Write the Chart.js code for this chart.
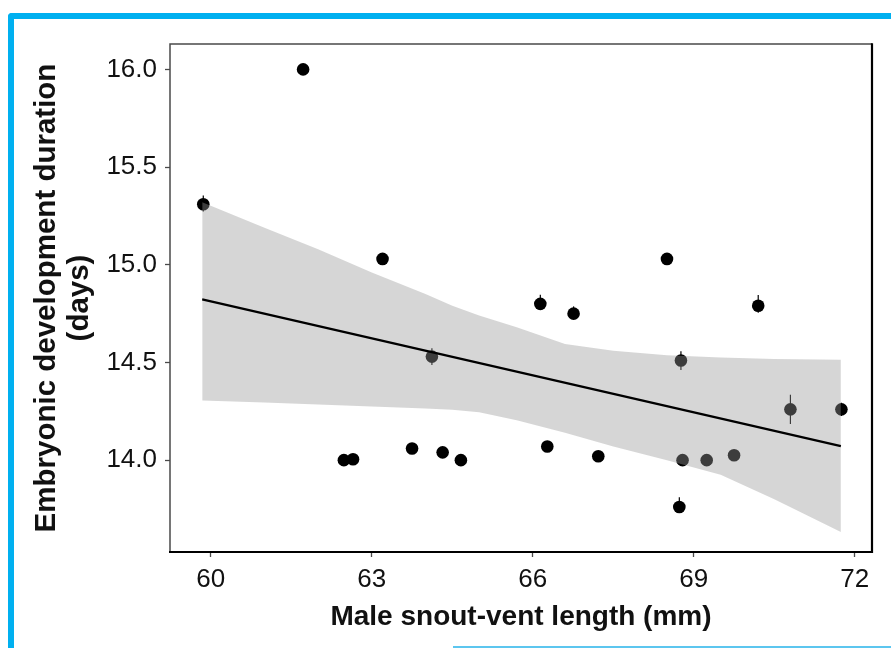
<!DOCTYPE html>
<html>
<head>
<meta charset="utf-8">
<script src="https://cdn.jsdelivr.net/npm/chart.js@4.4.1/dist/chart.umd.min.js"></script>
<style>
  html, body { margin: 0; padding: 0; background: #fff; overflow: hidden; }
  #wrap { position: relative; width: 891px; height: 648px; }
  #frame { position: absolute; left: 8px; top: 13px; width: 900px; height: 700px;
           border-left: 6px solid #00b0f0; border-top: 6px solid #00b0f0;
           border-top-left-radius: 4px; box-sizing: border-box; }
  #bline { position: absolute; left: 453px; top: 646px; width: 440px; height: 2px; background: #5cc6ef; }
  canvas { position: absolute; left: 0; top: 0; }
</style>
</head>
<body>
<div id="wrap">
  <div id="frame"></div>
  <div id="bline"></div>
  <canvas id="c" width="891" height="648"></canvas>
</div>
<script>
// ---- data ----
const svl = [59.86, 61.72, 62.48, 62.65, 63.20, 63.75, 64.12, 64.32, 64.66, 66.14, 66.27, 66.76, 67.22, 68.50, 68.73, 68.76, 68.79, 69.24, 69.75, 70.20, 70.80, 71.75];
const duration = [15.31, 16.00, 14.00, 14.005, 15.03, 14.06, 14.53, 14.04, 14.00, 14.80, 14.07, 14.75, 14.02, 15.03, 13.76, 14.51, 14.00, 14.00, 14.025, 14.79, 14.26, 14.26];
const errUp   = [0.045, 0.02, 0.02, 0.02, 0.02, 0.02, 0.043, 0.02, 0.02, 0.046, 0.02, 0.037, 0.02, 0.02, 0.05, 0.048, 0.02, 0.02, 0.02, 0.055, 0.075, 0.034];
const errDown = [0.037, 0.02, 0.02, 0.02, 0.02, 0.02, 0.043, 0.02, 0.02, 0.02, 0.02, 0.02, 0.02, 0.02, 0.02, 0.048, 0.02, 0.02, 0.02, 0.036, 0.075, 0.034];

const bandX     = [59.84, 61.0, 62.0, 63.0, 64.0, 64.5, 65.0, 65.7, 66.6, 67.5, 68.5, 69.5, 70.5, 71.74];
const bandUpper = [15.32, 15.19, 15.08, 14.96, 14.85, 14.79, 14.74, 14.68, 14.595, 14.56, 14.537, 14.525, 14.518, 14.514];
const bandLower = [14.306, 14.295, 14.285, 14.275, 14.265, 14.258, 14.245, 14.204, 14.14, 14.07, 14.0, 13.925, 13.80, 13.632];

const fitX = [59.84, 71.74];
const fitY = [14.823, 14.072];

const xTicks = [60, 63, 66, 69, 72];
const yTicks = [14.0, 14.5, 15.0, 15.5, 16.0];
const xRange = [59.24, 72.32];
const yRange = [13.53, 16.13];

const xTitle = 'Male snout-vent length (mm)';
const yTitle = ['Embryonic development duration', '(days)'];

// ---- plugins ----
const errorBars = {
  id: 'errorBars',
  afterDatasetDraw(chart, args) {
    if (args.index !== 0) return;
    const {ctx, scales: {x, y}} = chart;
    ctx.save();
    ctx.strokeStyle = '#000';
    ctx.lineWidth = 1.2;
    svl.forEach((v, i) => {
      const px = x.getPixelForValue(v);
      ctx.beginPath();
      ctx.moveTo(px, y.getPixelForValue(duration[i] + errUp[i]));
      ctx.lineTo(px, y.getPixelForValue(duration[i] - errDown[i]));
      ctx.stroke();
    });
    ctx.restore();
  }
};
const frame = {
  id: 'frame',
  afterDatasetsDraw(chart) {
    const {ctx, chartArea: a} = chart;
    ctx.save();
    ctx.strokeStyle = '#4a4a4a';
    ctx.lineWidth = 1.5;
    ctx.beginPath();
    ctx.moveTo(a.left, a.bottom); ctx.lineTo(a.left, a.top); ctx.lineTo(a.right, a.top);
    ctx.stroke();
    ctx.strokeStyle = '#000';
    ctx.lineWidth = 2.2;
    ctx.beginPath();
    ctx.moveTo(a.left - 1, a.bottom); ctx.lineTo(a.right, a.bottom); ctx.lineTo(a.right, a.top - 0.75);
    ctx.stroke();
    ctx.restore();
  }
};

const pts = svl.map((v, i) => ({x: v, y: duration[i]}));
const up = bandX.map((v, i) => ({x: v, y: bandUpper[i]}));
const lo = bandX.map((v, i) => ({x: v, y: bandLower[i]}));
const fit = fitX.map((v, i) => ({x: v, y: fitY[i]}));

new Chart(document.getElementById('c'), {
  type: 'scatter',
  data: {
    datasets: [
      { data: pts, order: 3, pointRadius: 6.3, pointHoverRadius: 6.3, backgroundColor: '#000', borderWidth: 0 },
      { data: up, order: 2, showLine: true, pointRadius: 0, borderWidth: 0, borderColor: 'rgba(0,0,0,0)', fill: '+1', backgroundColor: 'rgba(153,153,153,0.4)' },
      { data: lo, order: 2, showLine: true, pointRadius: 0, borderWidth: 0, borderColor: 'rgba(0,0,0,0)', fill: false },
      { data: fit, order: 1, showLine: true, pointRadius: 0, borderWidth: 2.2, borderColor: '#000', fill: false }
    ]
  },
  options: {
    responsive: false,
    devicePixelRatio: 1,
    animation: false,
    events: [],
    layout: { padding: { left: 0, top: 44, right: 19, bottom: 0 } },
    plugins: { legend: { display: false }, tooltip: { enabled: false } },
    scales: {
      x: {
        type: 'linear', min: xRange[0], max: xRange[1],
        afterFit(s) { s.height = 96; },
        afterBuildTicks(s) { s.ticks = xTicks.map(v => ({value: v})); },
        grid: { drawOnChartArea: false, drawTicks: true, tickLength: 5, tickColor: '#4a4a4a', tickWidth: 1.3 },
        border: { display: false },
        ticks: { padding: 7, color: '#111', font: { family: 'Liberation Sans, Arial, sans-serif', size: 26 }, callback: v => String(v), maxRotation: 0, autoSkip: false },
        title: { display: true, text: xTitle, color: '#111', padding: { top: 0, bottom: 14 },
                 font: { family: 'Liberation Sans, Arial, sans-serif', size: 28, weight: 'bold', lineHeight: 1.2 } }
      },
      y: {
        type: 'linear', min: yRange[0], max: yRange[1],
        afterFit(s) { s.width = 170; },
        afterBuildTicks(s) { s.ticks = yTicks.map(v => ({value: v})); },
        grid: { drawOnChartArea: false, drawTicks: true, tickLength: 5, tickColor: '#4a4a4a', tickWidth: 1.3 },
        border: { display: false },
        ticks: { padding: 8, color: '#111', font: { family: 'Liberation Sans, Arial, sans-serif', size: 26 }, callback: v => Number(v).toFixed(1), autoSkip: false },
        title: { display: true, text: yTitle, color: '#111', padding: { top: 31, bottom: 0 },
                 font: { family: 'Liberation Sans, Arial, sans-serif', size: 29.5, weight: 'bold', lineHeight: 1.1 } }
      }
    }
  },
  plugins: [errorBars, frame]
});
</script>
</body>
</html>
